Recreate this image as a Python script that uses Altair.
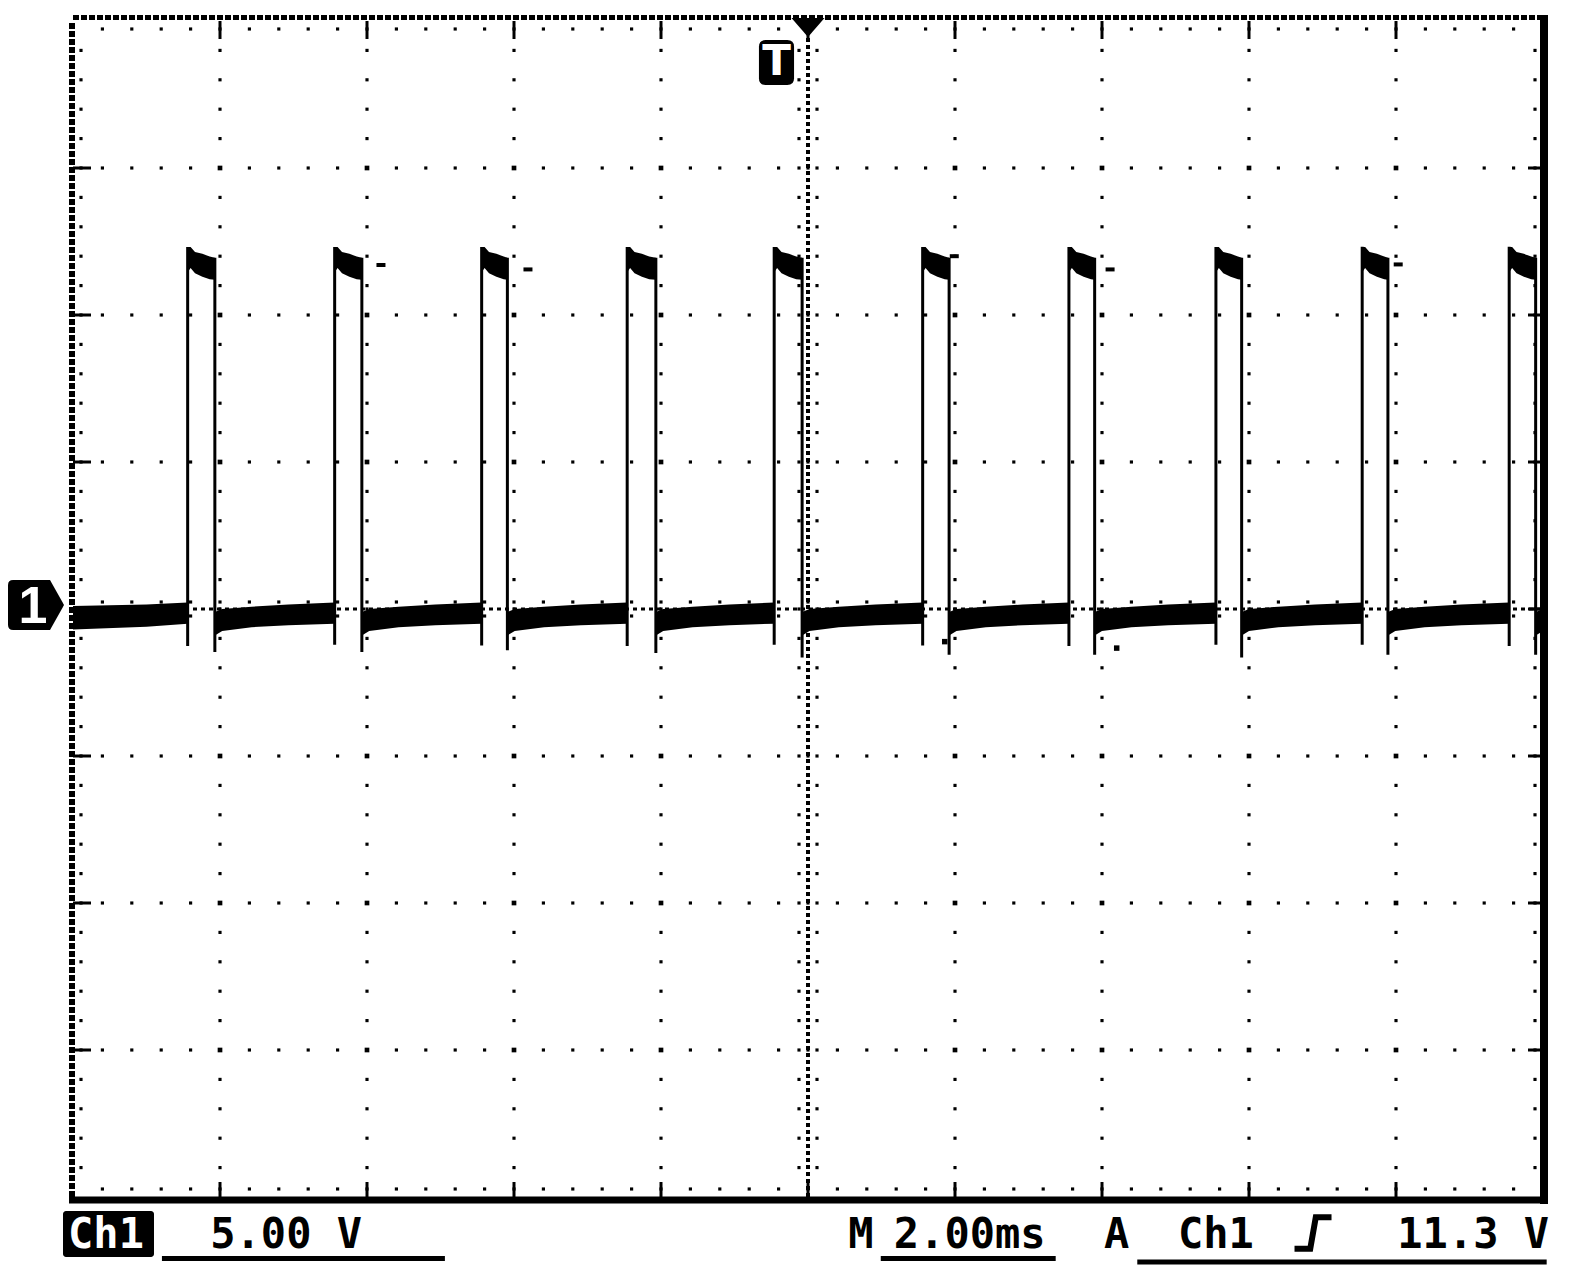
import altair as alt
import pandas as pd

# ---------------- scope settings ----------------
MS_PER_DIV = 2.0      # M 2.00ms
V_PER_DIV = 5.0       # Ch1 5.00 V
X_DOMAIN = [-10.0, 10.0]
Y_DOMAIN = [-20.0, 20.0]
PW, PH = 1470, 1176   # plot area (10 x 8 divisions)
PXX = (X_DOMAIN[1] - X_DOMAIN[0]) / PW   # ms per pixel
PXY = (Y_DOMAIN[1] - Y_DOMAIN[0]) / PH   # V per pixel

# ---------------- waveform readings ----------------
rise_ms = [-8.44, -6.44, -4.44, -2.46, -0.46, 1.56, 3.55, 5.55, 7.54, 9.54]
fall_ms = [-8.07, -6.07, -4.09, -2.07, -0.08, 1.92, 3.90, 5.90, 7.89, 9.90]
rise_low_v = [-1.26, -1.22, -1.24, -1.26, -1.22, -1.24, -1.26, -1.22, -1.22, -1.26]
rise_high_v = [12.31, 12.31, 12.31, 12.31, 12.31, 12.31, 12.31, 12.31, 12.32, 12.32]
fall_low_v = [-1.46, -1.46, -1.40, -1.50, -1.65, -1.56, -1.56, -1.65, -1.56, -1.56]
fall_high_v = [11.95, 11.95, 11.95, 11.95, 11.95, 11.95, 11.95, 11.95, 11.95, 11.95]

# pulse-top trace envelope (ms after rising edge)
top_off = [0.00, 0.04, 0.10, 0.20, 0.30]
top_hi = [12.31, 12.31, 12.14, 12.08, 11.99]
top_lo = [11.45, 11.60, 11.42, 11.30, 11.22]
top_end_hi, top_end_lo = 11.95, 11.20

# baseline trace envelope (ms after falling edge)
base_off = [0.00, 0.10, 0.50, 1.00]
base_hi = [-0.10, 0.00, 0.08, 0.15]
base_lo = [-0.90, -0.75, -0.62, -0.55]
base_end_hi, base_end_lo = 0.22, -0.50

# baseline before the first pulse
lead_t = [-10.0, -9.0, -8.44]
lead_hi = [0.10, 0.15, 0.22]
lead_lo = [-0.70, -0.60, -0.50]

# small glitch marks near the pulse tops
glitch_t = [-5.81, -3.81, 1.99, 4.11, 8.03]
glitch_v = [11.70, 11.55, 12.00, 11.55, 11.72]
# stray samples below the baseline
speck_t = [1.86, 4.20]
speck_v = [-1.11, -1.33]

# ---------------- readout texts ----------------
readout_labels = ["5.00 V", "M", "2.00ms", "A", "Ch1", "11.3 V"]
readout_x = [-7.10, 0.72, 2.20, 4.20, 5.55, 9.05]
readout_y = -21.73
underline_x = [-8.79, 0.99, 4.48]
underline_x2 = [-4.94, 3.37, 10.05]
underline_y = [-22.09, -22.09, -22.21]

# ---------------- build tables ----------------
rows = []
for t, hi, lo in zip(lead_t, lead_hi, lead_lo):
    rows.append(dict(t=t, hi=hi, lo=lo, seg="lead"))
for i, (r, f) in enumerate(zip(rise_ms, fall_ms)):
    seg = f"p{i}"
    for o, hi, lo in zip(top_off, top_hi, top_lo):
        if r + o < f:
            rows.append(dict(t=r + o, hi=hi, lo=lo, seg=seg))
    rows.append(dict(t=f, hi=top_end_hi, lo=top_end_lo, seg=seg))
    seg = f"b{i}"
    nxt = rise_ms[i + 1] if i + 1 < len(rise_ms) else X_DOMAIN[1]
    for o, hi, lo in zip(base_off, base_hi, base_lo):
        if f + o < nxt:
            rows.append(dict(t=f + o, hi=hi, lo=lo, seg=seg))
    if i + 1 < len(rise_ms):
        rows.append(dict(t=nxt, hi=base_end_hi, lo=base_end_lo, seg=seg))
    else:
        rows.append(dict(t=nxt, hi=base_hi[1], lo=base_lo[1], seg=seg))
band = pd.DataFrame(rows)

edges = pd.DataFrame(
    [dict(t=t, lo=lo, hi=hi) for t, lo, hi in zip(rise_ms, rise_low_v, rise_high_v)]
    + [dict(t=t, lo=lo, hi=hi) for t, lo, hi in zip(fall_ms, fall_low_v, fall_high_v)]
)
glitches = pd.DataFrame(dict(t=glitch_t, v=glitch_v))
specks = pd.DataFrame(dict(t=speck_t, v=speck_v))

# graticule
minor_x = [j * MS_PER_DIV / 5 for j in range(-24, 25)]
minor_y = [j * V_PER_DIV / 5 for j in range(-19, 20)]
major_x = [k * MS_PER_DIV for k in (-4, -3, -2, -1, 1, 2, 3, 4)]
major_y = [k * V_PER_DIV for k in (-3, -2, -1, 1, 2, 3)]

dots = []
for xv in major_x:
    for yv in minor_y:
        dots.append(dict(x=xv, y=yv))
for yv in major_y:
    for xv in minor_x:
        dots.append(dict(x=xv, y=yv))
# edge minor ticks (dots just inside the frame) and centre-axis ticks
for xv in minor_x:
    dots.append(dict(x=xv, y=Y_DOMAIN[1] - 8 * PXY))
    dots.append(dict(x=xv, y=Y_DOMAIN[0] + 8 * PXY))
    dots.append(dict(x=xv, y=7 * PXY))
    dots.append(dict(x=xv, y=-7 * PXY))
for yv in minor_y:
    dots.append(dict(x=X_DOMAIN[0] + 8 * PXX, y=yv))
    dots.append(dict(x=X_DOMAIN[1] - 8 * PXX, y=yv))
    dots.append(dict(x=9 * PXX, y=yv))
    dots.append(dict(x=-9 * PXX, y=yv))
dots = pd.DataFrame(dots)

cross = pd.DataFrame([dict(x=xv, y=yv) for xv in major_x for yv in major_y])

major_ticks = []
for xv in major_x + [0.0]:
    major_ticks.append(dict(x=xv, x2=xv, y=Y_DOMAIN[1], y2=Y_DOMAIN[1] - 18 * PXY))
    major_ticks.append(dict(x=xv, x2=xv, y=Y_DOMAIN[0], y2=Y_DOMAIN[0] + 15 * PXY))
for yv in major_y + [0.0]:
    major_ticks.append(dict(x=X_DOMAIN[0], x2=X_DOMAIN[0] + 18 * PXX, y=yv, y2=yv))
    major_ticks.append(dict(x=X_DOMAIN[1], x2=X_DOMAIN[1] - 15 * PXX, y=yv, y2=yv))
major_ticks = pd.DataFrame(major_ticks)

XS = alt.Scale(domain=X_DOMAIN, nice=False, zero=False)
YS = alt.Scale(domain=Y_DOMAIN, nice=False, zero=False)


def X(f):
    return alt.X(f, type="quantitative", scale=XS, axis=None)


def Y(f):
    return alt.Y(f, type="quantitative", scale=YS, axis=None)


def seg_rule(x, x2, y, y2, **style):
    d = pd.DataFrame([dict(x=x, x2=x2, y=y, y2=y2)])
    return alt.Chart(d).mark_rule(color="black", **style).encode(
        x=X("x"), x2="x2", y=Y("y"), y2="y2")


layers = []

# grid dots
layers.append(alt.Chart(dots).mark_square(size=10, color="black", opacity=1).encode(x=X("x"), y=Y("y")))
layers.append(alt.Chart(cross).mark_square(size=22, color="black", opacity=1).encode(x=X("x"), y=Y("y")))
layers.append(alt.Chart(major_ticks).mark_rule(color="black", strokeWidth=3).encode(
    x=X("x"), x2="x2", y=Y("y"), y2="y2"))

# centre axes (dense dotted)
layers.append(seg_rule(0, 0, Y_DOMAIN[0], Y_DOMAIN[1], strokeWidth=4, strokeDash=[4, 3]))
layers.append(seg_rule(X_DOMAIN[0], X_DOMAIN[1], 0, 0, strokeWidth=3, strokeDash=[4, 4]))

# frame
layers.append(seg_rule(X_DOMAIN[0], X_DOMAIN[1], Y_DOMAIN[1] + 3.5 * PXY, Y_DOMAIN[1] + 3.5 * PXY,
                       strokeWidth=5, strokeDash=[6, 2]))
layers.append(seg_rule(X_DOMAIN[0] - 1 * PXX, X_DOMAIN[0] - 1 * PXX, Y_DOMAIN[0], Y_DOMAIN[1],
                       strokeWidth=6, strokeDash=[6, 2]))
layers.append(seg_rule(X_DOMAIN[1] + 1 * PXX, X_DOMAIN[1] + 1 * PXX, Y_DOMAIN[0] - 7 * PXY, Y_DOMAIN[1] + 6 * PXY,
                       strokeWidth=8))
layers.append(seg_rule(X_DOMAIN[0] - 4 * PXX, X_DOMAIN[1] + 5 * PXX, Y_DOMAIN[0] - 3 * PXY, Y_DOMAIN[0] - 3 * PXY,
                       strokeWidth=7))

# trace
layers.append(alt.Chart(band).mark_area(color="black", opacity=1).encode(
    x=X("t"), y=Y("lo"), y2="hi", detail="seg:N"))
layers.append(alt.Chart(edges).mark_rule(color="black", strokeWidth=3).encode(
    x=X("t"), y=Y("lo"), y2="hi"))
layers.append(alt.Chart(glitches).mark_tick(color="black", orient="horizontal", size=9, thickness=4, opacity=1).encode(
    x=X("t"), y=Y("v")))
layers.append(alt.Chart(specks).mark_square(size=30, color="black", opacity=1).encode(x=X("t"), y=Y("v")))

# channel 1 ground marker
gnd_path = ("M -0.82 -0.89 L 0.5 -0.89 L 1 0 L 0.5 0.89 L -0.82 0.89 "
            "Q -1 0.89 -1 0.71 L -1 -0.71 Q -1 -0.89 -0.82 -0.89 Z")
layers.append(alt.Chart(pd.DataFrame([dict(x=-10.503, y=0.136)])).mark_point(
    shape=gnd_path, size=3136, filled=True, color="black", opacity=1, strokeWidth=0).encode(x=X("x"), y=Y("y")))
layers.append(alt.Chart(pd.DataFrame([dict(x=-10.544, y=-0.476, s="1")])).mark_text(
    color="white", font="Liberation Sans Narrow, Liberation Sans, sans-serif", fontSize=52, fontWeight="bold",
    align="center", baseline="alphabetic").encode(x=X("x"), y=Y("y"), text="s:N"))

# trigger position markers
t_path = ("M -0.48 -1 L 0.48 -1 Q 0.78 -1 0.78 -0.7 L 0.78 0.7 Q 0.78 1 0.48 1 "
          "L -0.48 1 Q -0.78 1 -0.78 0.7 L -0.78 -0.7 Q -0.78 -1 -0.48 -1 Z")
layers.append(alt.Chart(pd.DataFrame([dict(x=-0.4286, y=18.588)])).mark_point(
    shape=t_path, size=2025, filled=True, color="black", opacity=1, strokeWidth=0).encode(x=X("x"), y=Y("y")))
layers.append(alt.Chart(pd.DataFrame([dict(x=-0.4286, y=18.163, s="T")])).mark_text(
    color="white", font="DejaVu Sans", fontSize=42, fontWeight="bold",
    align="center", baseline="alphabetic").encode(x=X("x"), y=Y("y"), text="s:N"))
tri_path = "M -1 -0.58 L 1 -0.58 L 0 0.58 Z"
layers.append(alt.Chart(pd.DataFrame([dict(x=0.0, y=19.78)])).mark_point(
    shape=tri_path, size=1089, filled=True, color="black", opacity=1, strokeWidth=0).encode(x=X("x"), y=Y("y")))

# readout: Ch1 box
layers.append(alt.Chart(pd.DataFrame([dict(x=-10.136, x2=-8.898, y=-20.476, y2=-22.041)])).mark_rect(
    color="black", cornerRadius=3).encode(x=X("x"), x2="x2", y=Y("y"), y2="y2"))
layers.append(alt.Chart(pd.DataFrame([dict(x=-9.551, y=readout_y, s="Ch1")])).mark_text(
    color="white", font="DejaVu Sans Mono", fontSize=42, fontWeight="bold",
    align="center", baseline="alphabetic").encode(x=X("x"), y=Y("y"), text="s:N"))
readout = pd.DataFrame(dict(x=readout_x, y=[readout_y] * len(readout_x), s=readout_labels))
layers.append(alt.Chart(readout).mark_text(
    color="black", font="DejaVu Sans Mono", fontSize=42, fontWeight="bold",
    align="center", baseline="alphabetic").encode(x=X("x"), y=Y("y"), text="s:N"))
ul = pd.DataFrame(dict(x=underline_x, x2=underline_x2, y=underline_y))
layers.append(alt.Chart(ul).mark_rule(color="black", strokeWidth=5).encode(x=X("x"), x2="x2", y=Y("y")))
slope_path = "M -1 0.85 L -0.15 0.85 L 0.15 -0.85 L 1 -0.85"
layers.append(alt.Chart(pd.DataFrame([dict(x=6.871, y=-21.224)])).mark_point(
    shape=slope_path, size=1369, filled=False, color="black", opacity=1, strokeWidth=6).encode(x=X("x"), y=Y("y")))

chart = alt.layer(*layers).properties(
    width=PW, height=PH,
    padding={"left": 65, "top": 13, "right": 30, "bottom": 68},
    autosize="none",
    background="white",
).configure_view(stroke="transparent")

chart.save("out.html", embed_options={"renderer": "svg", "actions": False})
